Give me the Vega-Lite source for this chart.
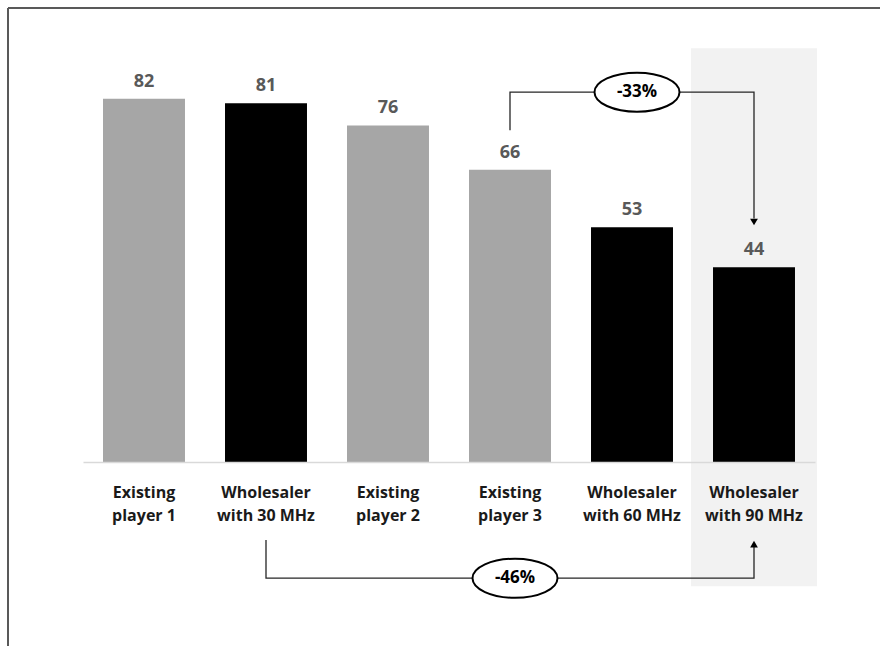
{
  "$schema": "https://vega.github.io/schema/vega-lite/v6.json",
  "width": 872,
  "height": 638,
  "autosize": {"type": "none"},
  "padding": {"left": 8, "top": 8, "right": 0, "bottom": 0},
  "background": "white",
  "config": {
    "font": "Open Sans",
    "view": {"stroke": "#595959", "strokeWidth": 2, "strokeDash": [872, 1510, 638, 0]}
  },
  "datasets": {
    "bars": [
      {"label": "Existing player 1", "v": 82, "type": "player"},
      {"label": "Wholesaler with 30 MHz", "v": 81, "type": "wholesaler"},
      {"label": "Existing player 2", "v": 76, "type": "player"},
      {"label": "Existing player 3", "v": 66, "type": "player"},
      {"label": "Wholesaler with 60 MHz", "v": 53, "type": "wholesaler"},
      {"label": "Wholesaler with 90 MHz", "v": 44, "type": "wholesaler"}
    ],
    "highlight": [{"label": "Wholesaler with 90 MHz", "top": 93.4, "bottom": -28}],
    "brackets": [
      {"g": "a", "label": "Existing player 3", "v": 74.9, "ord": 1},
      {"g": "a", "label": "Existing player 3", "v": 83.5, "ord": 2},
      {"g": "a", "label": "Wholesaler with 90 MHz", "v": 83.5, "ord": 3},
      {"g": "a", "label": "Wholesaler with 90 MHz", "v": 55, "ord": 4},
      {"g": "b", "label": "Wholesaler with 30 MHz", "v": -17.6, "ord": 1},
      {"g": "b", "label": "Wholesaler with 30 MHz", "v": -26.2, "ord": 2},
      {"g": "b", "label": "Wholesaler with 90 MHz", "v": -26.2, "ord": 3},
      {"g": "b", "label": "Wholesaler with 90 MHz", "v": -19, "ord": 4}
    ],
    "arrows": [
      {"label": "Wholesaler with 90 MHz", "v": 54.2, "dir": "down"},
      {"label": "Wholesaler with 90 MHz", "v": -18.5, "dir": "up"}
    ],
    "pcts": [
      {"label": "Wholesaler with 60 MHz", "v": 83.5, "text": "-33%"},
      {"label": "Existing player 3", "v": -26.2, "text": "-46%"}
    ]
  },
  "encoding": {
    "x": {
      "field": "label",
      "type": "nominal",
      "sort": ["Existing player 1", "Wholesaler with 30 MHz", "Existing player 2", "Existing player 3", "Wholesaler with 60 MHz", "Wholesaler with 90 MHz"],
      "scale": {"range": [75, 807], "paddingInner": 0.328, "paddingOuter": 0.164},
      "title": null,
      "axis": {
        "orient": "bottom",
        "offset": -184,
        "domainColor": "#d9d9d9",
        "domainWidth": 1.5,
        "ticks": false,
        "grid": false,
        "labelAngle": 0,
        "labelFont": "Open Sans",
        "labelFontSize": 16,
        "labelFontWeight": "bold",
        "labelColor": "#1a1a1a",
        "labelPadding": 22,
        "labelBaseline": "top",
        "labelLineHeight": 23,
        "labelLimit": 0,
        "labelExpr": "[slice(datum.value, 0, indexof(datum.value, ' ')), slice(datum.value, indexof(datum.value, ' ') + 1)]",
        "zindex": 1
      }
    }
  },
  "layer": [
    {
      "data": {"name": "highlight"},
      "mark": {"type": "bar", "width": 126, "color": "#f2f2f2"},
      "encoding": {
        "y": {"field": "top", "type": "quantitative", "scale": {"domain": [-41.5, 102.5], "nice": false, "zero": false}, "axis": null},
        "y2": {"field": "bottom"}
      }
    },
    {
      "data": {"name": "bars"},
      "mark": {"type": "bar"},
      "encoding": {
        "y": {"field": "v", "type": "quantitative", "scale": {"domain": [-41.5, 102.5], "nice": false, "zero": false}, "axis": null},
        "color": {"field": "type", "type": "nominal", "scale": {"domain": ["player", "wholesaler"], "range": ["#a6a6a6", "#000000"]}, "legend": null}
      }
    },
    {
      "data": {"name": "bars"},
      "mark": {"type": "text", "dy": -12, "baseline": "alphabetic", "fontSize": 18, "fontWeight": "bold", "color": "#595959"},
      "encoding": {
        "y": {"field": "v", "type": "quantitative"},
        "text": {"field": "v", "type": "quantitative"}
      }
    },
    {
      "data": {"name": "brackets"},
      "mark": {"type": "line", "color": "#262626", "strokeWidth": 1.3},
      "encoding": {
        "y": {"field": "v", "type": "quantitative"},
        "detail": {"field": "g"},
        "order": {"field": "ord", "type": "quantitative"}
      }
    },
    {
      "data": {"name": "arrows"},
      "mark": {"type": "point", "filled": true, "color": "#000000", "size": 60, "opacity": 1},
      "encoding": {
        "y": {"field": "v", "type": "quantitative"},
        "shape": {"field": "dir", "type": "nominal", "scale": {"domain": ["down", "up"], "range": ["triangle-down", "triangle-up"]}, "legend": null}
      }
    },
    {
      "data": {"name": "pcts"},
      "mark": {"type": "point", "shape": "M-1,0A1,0.46,0,1,1,1,0A1,0.46,0,1,1,-1,0Z", "size": 7225, "fill": "white", "stroke": "black", "strokeWidth": 2, "opacity": 1, "fillOpacity": 1, "xOffset": 5},
      "encoding": {
        "y": {"field": "v", "type": "quantitative"}
      }
    },
    {
      "data": {"name": "pcts"},
      "mark": {"type": "text", "fontSize": 17, "fontWeight": "bold", "color": "#000000", "dx": 5, "baseline": "middle"},
      "encoding": {
        "y": {"field": "v", "type": "quantitative"},
        "text": {"field": "text"}
      }
    }
  ]
}
